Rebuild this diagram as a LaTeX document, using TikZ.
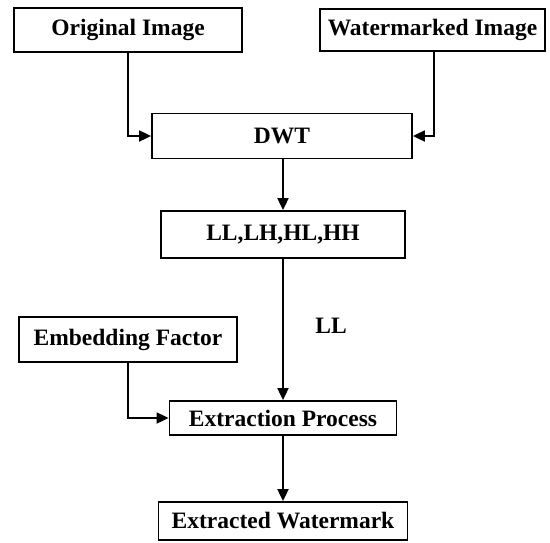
\documentclass[tikz,border=0pt]{standalone}
\usepackage{fontspec}
\setmainfont{Liberation Serif}
\usetikzlibrary{arrows.meta}
\tikzset{
  blk/.style={draw, line width=1.8pt, inner sep=0pt, font=\fontsize{23.5}{27}\selectfont\bfseries},
  flow/.style={line width=1.8pt, -{Triangle[length=12pt,width=11pt]}},
}
\begin{document}
\begin{tikzpicture}[x=1pt,y=-1pt]
  \useasboundingbox (0,0) rectangle (550,542);
  \node[blk, minimum width=228pt, minimum height=44pt] (orig) at (128,30) {Original Image};
  \node[blk, minimum width=225pt, minimum height=42pt] (wm) at (432.5,30) {Watermarked Image};
  \node[blk, minimum width=260pt, minimum height=45pt] (dwt) at (282,136) {DWT};
  \node[blk, minimum width=244pt, minimum height=47pt] (ll) at (283,234.5) {LL,LH,HL,HH};
  \node[blk, minimum width=218pt, minimum height=45pt] (emb) at (128,339.5) {Embedding Factor};
  \node[blk, minimum width=227pt, minimum height=34pt] (ext) at (283,418) {Extraction Process};
  \node[blk, minimum width=249pt, minimum height=38pt] (out) at (283,521) {Extracted Watermark};
  \node[font=\fontsize{23.5}{27}\selectfont\bfseries] (lllab) at (331,326) {LL};
  \draw[flow] (orig.south) |- (dwt.west);
  \draw[flow] (wm.south -| 434,0) |- (dwt.east);
  \draw[flow] (dwt.south -| ll.north) -- (ll.north);
  \draw[flow] (ll.south) -- (ext.north);
  \draw[flow] (emb.south) |- (ext.west);
  \draw[flow] (ext.south) -- (out.north);
\end{tikzpicture}
\end{document}
